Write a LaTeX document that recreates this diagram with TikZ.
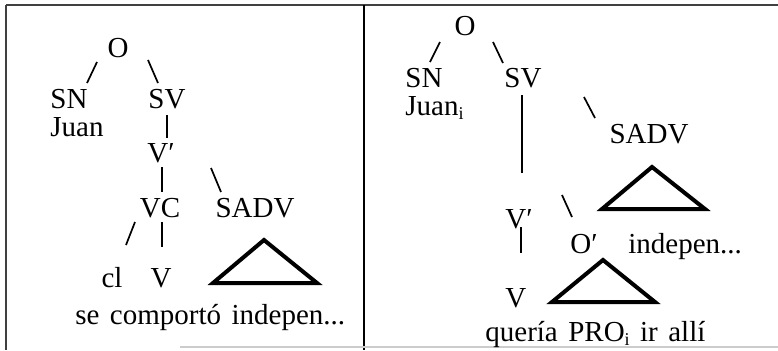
\documentclass[tikz,border=0pt]{standalone}
\usepackage{fontspec}
\setmainfont{Liberation Serif}
\newcommand\lowi{\raisebox{-0.35ex}{\fontsize{9}{9}\selectfont i}}
\newcommand\wsp{\ \hspace{1.6pt}}
\begin{document}
\begin{tikzpicture}[x=0.5pt,y=-0.5pt,
  lbl/.style={inner sep=0pt,font=\fontsize{14.5}{16}\selectfont,anchor=base},
  lblw/.style={lbl,anchor=base west},
  stroke/.style={line width=0.85pt},
  stem/.style={line width=1.3pt},
  tri/.style={line width=2pt,line join=miter}]
\useasboundingbox (0,0) rectangle (778,350);
% frame
\draw[line width=0.8pt,black!75] (6,5) -- (778,5);
\draw[line width=0.8pt,black!75] (6,5) -- (6,350);
\draw[line width=1pt] (364,5) -- (364,350);
\draw[line width=0.6pt,black!20] (180,347) -- (778,347);
% ---------- left tree ----------
\node[lbl] (LO) at (118,57) {O};
\node[lblw] (LSN) at (50,108) {SN};
\node[lblw] (LJuan) at (50,136) {Juan};
\node[lbl] (LSV) at (167,108) {SV};
\node[lblw] (LVb) at (147,162) {V′};
\node[lbl] (LVC) at (160,217) {VC};
\node[lbl] (LSADV) at (255,217) {SADV};
\node[lbl] (Lcl) at (112,287) {cl};
\node[lbl] (LV) at (161,287) {V};
\node[lblw] (Ltext) at (75,324) {se\wsp comportó\wsp indepen...};
\coordinate (la1) at (97,62);  \coordinate (la2) at (87,83);
\coordinate (lb1) at (148,60); \coordinate (lb2) at (158,83);
\coordinate (lc1) at (167,115); \coordinate (lc2) at (167,138);
\coordinate (ld1) at (162,167); \coordinate (ld2) at (162,192);
\coordinate (le1) at (211,168); \coordinate (le2) at (221,192);
\coordinate (lf1) at (135,222); \coordinate (lf2) at (126,245);
\coordinate (lg1) at (162,222); \coordinate (lg2) at (162,247);
\draw[stroke] (la1) -- (la2);
\draw[stroke] (lb1) -- (lb2);
\draw[stem] (lc1) -- (lc2);
\draw[stem] (ld1) -- (ld2);
\draw[stroke] (le1) -- (le2);
\draw[stroke] (lf1) -- (lf2);
\draw[stem] (lg1) -- (lg2);
\coordinate (lt1) at (264,240); \coordinate (lt2) at (213,283); \coordinate (lt3) at (317,283);
\draw[tri] (lt1) -- (lt2) -- (lt3) -- cycle;
% ---------- right tree ----------
\node[lbl] (RO) at (465,35) {O};
\node[lblw] (RSN) at (405,87) {SN};
\node[lblw] (RJuan) at (405,115) {Juan\lowi};
\node[lbl] (RSV) at (523,87) {SV};
\node[lbl] (RSADV) at (649,143) {SADV};
\node[lblw] (RVb) at (505,228) {V′};
\node[lblw] (ROb) at (570,253) {O′};
\node[lblw] (Rind) at (628,253) {indepen...};
\node[lblw] (RV) at (505,307) {V};
\node[lblw] (Rtext) at (485,341) {quería\wsp PRO\lowi\wsp ir\wsp allí};
\coordinate (ra1) at (440,42);  \coordinate (ra2) at (430,62);
\coordinate (rb1) at (493,42);  \coordinate (rb2) at (503,63);
\coordinate (rc1) at (522,95);  \coordinate (rc2) at (522,173);
\coordinate (rd1) at (584,97);  \coordinate (rd2) at (595,118);
\coordinate (re1) at (562,195); \coordinate (re2) at (572,217);
\coordinate (rf1) at (521,227); \coordinate (rf2) at (521,253);
\draw[stroke] (ra1) -- (ra2);
\draw[stroke] (rb1) -- (rb2);
\draw[stem] (rc1) -- (rc2);
\draw[stroke] (rd1) -- (rd2);
\draw[stroke] (re1) -- (re2);
\draw[stem] (rf1) -- (rf2);
\coordinate (rt1) at (652,167); \coordinate (rt2) at (602,209); \coordinate (rt3) at (705,209);
\draw[tri] (rt1) -- (rt2) -- (rt3) -- cycle;
\coordinate (rs1) at (603,260); \coordinate (rs2) at (552,302); \coordinate (rs3) at (655,302);
\draw[tri] (rs1) -- (rs2) -- (rs3) -- cycle;
\end{tikzpicture}
\end{document}
